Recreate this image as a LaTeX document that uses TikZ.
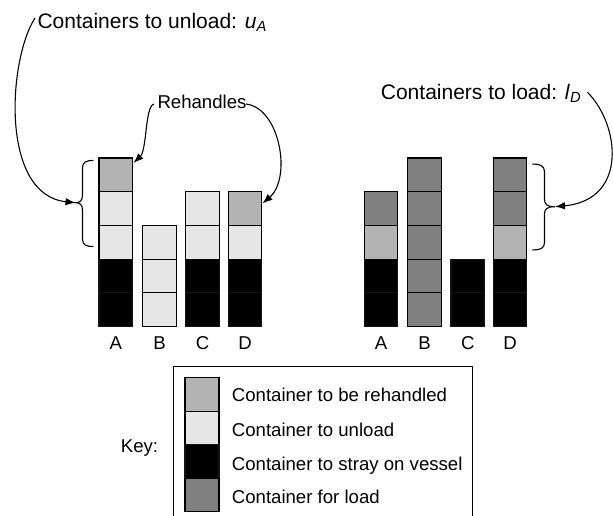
\documentclass[tikz,border=0pt]{standalone}
\usepackage{fontspec}
\setmainfont{Liberation Sans}
\usetikzlibrary{arrows.meta}
\definecolor{unlcol}{HTML}{E6E6E6}
\definecolor{rehcol}{HTML}{B3B3B3}
\definecolor{loadcol}{HTML}{808080}
% one stack of containers: left x, then cell styles from bottom to top
\newcommand\cstack[2]{%
  \foreach \s [count=\i from 0] in {#2} {%
    \draw[cell,\s] (#1,{326.5-\i*33.7}) rectangle ++(33.6,-33.7);%
  }%
}
\begin{document}
\begin{tikzpicture}[x=1pt,y=-1pt,
  cell/.style={draw=black,line width=1.1pt},
  unl/.style={fill=unlcol},
  reh/.style={fill=rehcol},
  stay/.style={fill=black,draw=black!92},
  ld/.style={fill=loadcol},
  big/.style={font=\fontsize{21}{24}\selectfont,inner sep=0pt},
  lbl/.style={font=\fontsize{18.6}{22}\selectfont,inner sep=0pt},
  conn/.style={line width=1.1pt,-{Latex[length=10pt,width=7.5pt]}},
  brc/.style={line width=1.1pt}]
\useasboundingbox (0,0) rectangle (613,516);

% unloading side
\cstack{99}{stay,stay,unl,unl,reh}
\cstack{142.7}{unl,unl,unl}
\cstack{185.7}{stay,stay,unl,unl}
\cstack{228.3}{stay,stay,unl,reh}
% loading side
\cstack{364.3}{stay,stay,reh,ld}
\cstack{407.7}{ld,ld,ld,ld,ld}
\cstack{451}{stay,stay}
\cstack{493.3}{stay,stay,reh,ld,ld}

% stack letters
\foreach \x/\t [count=\k] in {115.8/A,159.5/B,202.5/C,245.1/D,381.1/A,424.5/B,467.8/C,510.1/D}
  \node[lbl,anchor=base] (col\k) at (\x,349.3) {\t};

% captions
\node[big,anchor=base west] (lblU) at (37.3,28.3) {Containers to unload: \textit{u}\textsubscript{\textit{A}}};
\node[big,anchor=base west] (lblL) at (380.7,99.3) {Containers to load: \textit{l}\textsubscript{\textit{D}}};
\node[lbl,anchor=base west] (lblR) at (157.3,108.3) {Rehandles};

% braces
\draw[brc] (93.3,160.5) .. controls (86,160.5) and (82.5,162) .. (82.5,168) -- (82.5,195)
  .. controls (82.5,200.5) and (80,202.7) .. (75.5,202.7)
  .. controls (80,202.7) and (82.5,205) .. (82.5,210) -- (82.5,239)
  .. controls (82.5,245) and (86,246.5) .. (93.3,246.5);
\draw[brc] (532.3,164) .. controls (539.5,164) and (544.5,165.5) .. (544.5,171.5) -- (544.5,199)
  .. controls (544.5,204.5) and (547,206.7) .. (555,206.7)
  .. controls (547,206.7) and (544.5,209) .. (544.5,214) -- (544.5,243)
  .. controls (544.5,248.5) and (539.5,250) .. (532.3,250);

% arrow ends
\coordinate (uStart) at (35,18);
\coordinate (uTip) at (75.5,202.7);
\coordinate (rStartA) at (154,104);
\coordinate (rTipA) at (133.5,163);
\coordinate (rStartB) at (246,104);
\coordinate (rTipB) at (262.5,203.5);
\coordinate (lStart) at (587.5,92.3);
\coordinate (lTip) at (555,206.7);

\draw[conn] (uStart) .. controls (8,60) and (0,195) .. (uTip);
\draw[conn] (rStartA) .. controls (145,106) and (147,150) .. (rTipA);
\draw[conn] (rStartB) .. controls (280,108) and (292,178) .. (rTipB);
\draw[conn] (lStart) .. controls (620,125) and (628,200) .. (lTip);

% key (its lower edge runs past the page)
\node[lbl,anchor=base west] (keyT) at (120.7,452.7) {Key:};
\draw[line width=0.9pt] (173.3,520) |- (472.7,366.7) -- (472.7,520);
\foreach \s/\t/\b [count=\k from 0] in {reh/Container to be rehandled/401.7,
    unl/Container to unload/436.7, stay/Container to stray on vessel/470,
    ld/Container for load/503.3} {
  \draw[cell,\s] (185,{377.7+\k*33.5}) rectangle ++(34,33.5);
  \node[lbl,anchor=base west] (key\k) at (231.7,\b) {\t};
}
\end{tikzpicture}
\end{document}
